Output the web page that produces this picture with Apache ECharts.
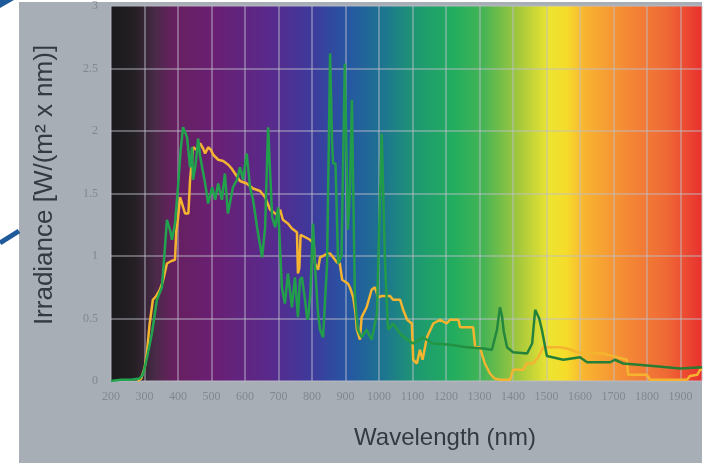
<!DOCTYPE html>
<html>
<head>
<meta charset="utf-8">
<script src="https://cdn.jsdelivr.net/npm/echarts@6/dist/echarts.min.js"></script>
<style>
html,body{margin:0;padding:0;background:#ffffff;}
#chart{width:710px;height:463px;}
</style>
</head>
<body>
<div id="chart"></div>
<script>
// Reference spectrum (yellow, stepped)
const yellowNm  = [280,290,300,307,315,325,335,346,355,367,380,391,395,400,406,412,421,431,436,445,455,466,475,481,490,498,505,520,535,550,560,570,585,605,624,645,660,675,695,705,713,728,740,755,758,762,766,780,794,805,809,818,824,833,845,854,863,874,883,890,907,913,923,930,934,943,948,963,978,988,997,1009,1033,1042,1063,1072,1084,1098,1102,1113,1122,1130,1143,1162,1182,1202,1212,1237,1242,1281,1287,1301,1316,1331,1345,1361,1391,1400,1430,1441,1460,1475,1490,1540,1561,1591,1669,1710,1740,1743,1799,1809,1919,1928,1950,1958,1964];
const yellowVal = [0,0.02,0.1,0.22,0.45,0.65,0.68,0.73,0.8,0.94,0.96,0.97,1.2,1.3,1.47,1.42,1.34,1.34,1.61,1.87,1.85,1.9,1.86,1.82,1.87,1.85,1.81,1.77,1.76,1.73,1.7,1.66,1.6,1.58,1.54,1.52,1.47,1.37,1.33,1.37,1.29,1.26,1.22,1.19,0.86,0.9,1.17,1.15,1.13,1.1,0.94,0.89,0.99,1.0,1.02,1.02,0.99,0.95,0.94,0.81,0.78,0.75,0.67,0.54,0.41,0.33,0.51,0.59,0.73,0.75,0.67,0.68,0.68,0.65,0.65,0.57,0.49,0.46,0.17,0.14,0.25,0.17,0.35,0.46,0.49,0.46,0.49,0.49,0.43,0.43,0.27,0.27,0.14,0.06,0.02,0.01,0.01,0.09,0.09,0.14,0.14,0.19,0.27,0.27,0.26,0.23,0.22,0.19,0.17,0.05,0.05,0.01,0.01,0.04,0.05,0.09,0.09];

// Lamp / measured spectrum (green)
const greenNm  = [200,230,260,285,295,301,310,322,337,352,361,367,376,382,391,400,408,415,427,436,442,445,452,457,460,466,472,481,490,502,511,520,531,540,549,564,576,585,594,605,615,624,636,651,660,669,681,690,699,710,719,728,740,749,758,764,770,779,785,788,795,803,809,818,824,833,839,845,854,860,863,870,878,888,898,907,913,919,928,937,948,963,978,994,1008,1018,1027,1042,1063,1084,1102,1131,1161,1212,1262,1311,1337,1352,1361,1367,1372,1382,1400,1442,1457,1466,1471,1478,1486,1501,1550,1600,1621,1690,1704,1729,1818,1899,1964];
const greenVal = [0,0.01,0.01,0.02,0.05,0.11,0.22,0.38,0.65,0.75,1.07,1.29,1.21,1.13,1.26,1.55,1.85,2.03,1.95,1.71,1.87,1.61,1.72,1.85,1.94,1.8,1.71,1.58,1.42,1.55,1.45,1.58,1.45,1.66,1.34,1.55,1.61,1.71,1.61,1.82,1.55,1.45,1.23,0.99,1.23,2.03,1.31,1.23,1.39,0.75,0.62,0.86,0.59,0.83,0.51,0.81,0.83,0.65,0.51,0.49,0.7,1.26,0.91,0.54,0.41,0.35,0.65,0.94,2.62,1.9,1.74,1.74,0.94,1.0,2.54,1.21,1.5,2.25,0.67,0.41,0.35,0.41,0.33,0.54,1.98,0.94,0.41,0.46,0.38,0.33,0.3,0.35,0.3,0.29,0.27,0.26,0.25,0.41,0.59,0.52,0.4,0.27,0.23,0.22,0.3,0.57,0.58,0.5,0.41,0.2,0.17,0.19,0.15,0.15,0.17,0.14,0.12,0.1,0.11];

const yTicks = [0, 0.5, 1, 1.5, 2, 2.5, 3];
const xMin = 200, xMax = 1964;
const yTitle = 'Irradiance [W/(m² x nm)]';
const xTitle = 'Wavelength (nm)';

const yellowData = yellowNm.map((x, i) => [x, yellowVal[i]]);
const greenData = greenNm.map((x, i) => [x, greenVal[i]]);

const chart = echarts.init(document.getElementById('chart'), null, {renderer: 'canvas'});

const spectrum = new echarts.graphic.LinearGradient(0, 0, 1, 0, [
  {offset: 0.00, color: '#1b191b'},
  {offset: 0.04, color: '#242024'},
  {offset: 0.075, color: '#4a2a48'},
  {offset: 0.105, color: '#66205f'},
  {offset: 0.17, color: '#6a1f72'},
  {offset: 0.27, color: '#582a8c'},
  {offset: 0.34, color: '#3d3a9c'},
  {offset: 0.40, color: '#2656a2'},
  {offset: 0.46, color: '#1d7490'},
  {offset: 0.52, color: '#1e9a70'},
  {offset: 0.58, color: '#22ad5e'},
  {offset: 0.63, color: '#46b455'},
  {offset: 0.69, color: '#a4c83c'},
  {offset: 0.74, color: '#ece432'},
  {offset: 0.77, color: '#f6dc2a'},
  {offset: 0.80, color: '#f8b530'},
  {offset: 0.87, color: '#f48a35'},
  {offset: 0.94, color: '#ef6935'},
  {offset: 1.00, color: '#e8302e'}
]);

const greenGrad = new echarts.graphic.LinearGradient(0, 0, 1, 0, [
  {offset: 0, color: '#22a550'},
  {offset: 0.5, color: '#229a48'},
  {offset: 0.7, color: '#23823a'},
  {offset: 1, color: '#2a7a30'}
]);

chart.setOption({
  animation: false,
  backgroundColor: '#ffffff',
  graphic: [
    {type: 'rect', z: -10, shape: {x: 19, y: 2, width: 683, height: 461}, style: {fill: '#a7aeb5'}},
    {type: 'polygon', z: 10, shape: {points: [[0,0],[14,0],[0,8]]}, style: {fill: '#1f5b9a'}},
    {type: 'line', z: 10, shape: {x1: 0, y1: 243, x2: 19, y2: 231}, style: {stroke: '#1f5b9a', lineWidth: 5}},
    {type: 'text', z: 10, x: 45, y: 185, rotation: Math.PI / 2,
      style: {text: yTitle, fill: '#343a40', font: '26px "Liberation Sans", Arial, sans-serif', align: 'center', verticalAlign: 'middle'}},
    {type: 'text', z: 10, x: 445, y: 438,
      style: {text: xTitle, fill: '#343a40', font: '24px "Liberation Sans", Arial, sans-serif', align: 'center', verticalAlign: 'middle'}}
  ],
  grid: {left: 111, right: 8, top: 6, bottom: 82, show: true, backgroundColor: spectrum, borderWidth: 0},
  xAxis: {
    type: 'value', min: xMin, max: xMax, interval: 100,
    axisLine: {show: false}, axisTick: {show: false},
    axisLabel: {color: '#80878e', fontFamily: '"Liberation Serif", serif', fontSize: 12, margin: 10,
      formatter: v => (v % 100 === 0 ? String(v) : '')},
    splitLine: {show: true, lineStyle: {color: 'rgba(190,190,200,0.6)', width: 1.5}}
  },
  yAxis: {
    type: 'value', min: yTicks[0], max: yTicks[yTicks.length - 1], interval: 0.5,
    axisLine: {show: false}, axisTick: {show: false},
    axisLabel: {color: '#80878e', fontFamily: '"Liberation Serif", serif', fontSize: 12, margin: 13},
    splitLine: {show: true, lineStyle: {color: 'rgba(190,190,200,0.6)', width: 1.5}}
  },
  series: [
    {type: 'line', data: yellowData, showSymbol: false, smooth: false,
      lineStyle: {color: '#f5b430', width: 2.5}, z: 3},
    {type: 'line', data: greenData, showSymbol: false, smooth: false,
      lineStyle: {color: greenGrad, width: 2.5}, z: 4}
  ]
});
</script>
</body>
</html>
